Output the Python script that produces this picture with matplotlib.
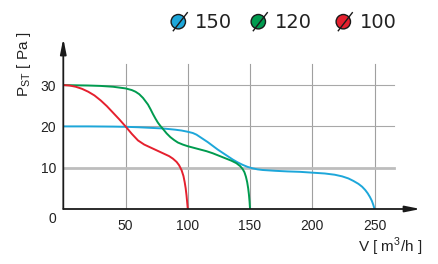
import matplotlib.pyplot as plt
from matplotlib.patches import Circle

plt.rcParams['font.family'] = ['Liberation Sans', 'DejaVu Sans']
plt.rcParams['mathtext.fontset'] = 'custom'
plt.rcParams['mathtext.rm'] = 'Liberation Sans'

# curve data
red_x = [0, 5, 10, 15, 20, 25, 30, 35, 40, 45, 50, 55, 60, 65, 70, 75, 80, 85, 88, 91, 93, 95,
         96.5, 97.5, 98.3, 99, 99.5, 100]
red_y = [30, 29.9, 29.6, 29.1, 28.4, 27.5, 26.3, 24.9, 23.3, 21.7, 20, 18.2, 16.6, 15.6, 14.9,
         14.2, 13.5, 12.8, 12.2, 11.4, 10.6, 9.4, 8.0, 6.5, 5.0, 3.2, 1.6, 0]

green_x = [0, 10, 20, 30, 40, 45, 50, 55, 58, 61, 64, 66, 68, 70, 72, 74, 76, 78, 80, 83, 86, 89,
           92, 96, 100, 105, 110, 115, 120, 125, 130, 135, 139, 142, 144, 145.5, 146.7, 147.7,
           148.5, 149.1, 149.6, 150]
green_y = [30, 29.95, 29.9, 29.8, 29.6, 29.4, 29.2, 28.8, 28.4, 27.8, 26.9, 26.1, 25.3, 24.2, 23.0,
           21.9, 20.9, 20.1, 19.4, 18.3, 17.4, 16.7, 16.1, 15.6, 15.2, 14.8, 14.4, 14.0, 13.5, 12.9,
           12.3, 11.7, 11.1, 10.4, 9.7, 8.9, 7.8, 6.5, 5.0, 3.5, 1.8, 0]

blue_x = [0, 20, 40, 50, 60, 70, 80, 90, 95, 100, 104, 107, 110, 113, 116, 120, 124, 128, 132,
          136, 140, 144, 148, 152, 156, 160, 170, 180, 190, 200, 210, 218, 224, 229, 233, 237,
          240, 242.5, 244.5, 246.3, 247.8, 249, 250]
blue_y = [20, 20, 19.95, 19.9, 19.8, 19.65, 19.5, 19.2, 19.0, 18.7, 18.4, 18.0, 17.4, 16.8, 16.2,
          15.3, 14.4, 13.6, 12.8, 12.0, 11.3, 10.7, 10.2, 9.85, 9.6, 9.45, 9.25, 9.1, 9.0, 8.8,
          8.6, 8.3, 7.9, 7.4, 6.8, 6.1, 5.4, 4.6, 3.8, 2.9, 2.0, 1.0, 0]

x_ticks = [50, 100, 150, 200, 250]
y_ticks = [10, 20, 30]
legend_labels = ['150', '120', '100']

BLUE = '#1da7da'
GREEN = '#009b4f'
RED = '#e5202e'

W, H = 439, 264
fig = plt.figure(figsize=(W / 100, H / 100), dpi=100)

# axes placed so data units map onto the picture's pixels
x0, y0 = 63.3, 209.0
sx, sy = 1.245, 4.13
xmax, ymax = 290, 43
ax = fig.add_axes([x0 / W, (H - y0) / H, xmax * sx / W, ymax * sy / H])
ax.set_xlim(0, xmax)
ax.set_ylim(0, ymax)
for s in ax.spines.values():
    s.set_visible(False)
ax.patch.set_alpha(0)

# grid
for xv in x_ticks:
    ax.plot([xv, xv], [0, 35], color='#a0a0a0', lw=0.8, zorder=1)
for yv in y_ticks:
    if yv == 10:
        ax.plot([0, 266], [yv, yv], color='#bdbdbd', lw=2.0, zorder=1)
    else:
        ax.plot([0, 266], [yv, yv], color='#a8a8a8', lw=0.8, zorder=1)

ax.plot(blue_x, blue_y, color=BLUE, lw=1.4, zorder=3)
ax.plot(green_x, green_y, color=GREEN, lw=1.4, zorder=3)
ax.plot(red_x, red_y, color=RED, lw=1.4, zorder=3)

# axes with arrows
arrow = dict(arrowstyle='-|>,head_length=0.9,head_width=0.18', color='#1a1a1a', lw=1.3,
             shrinkA=0, shrinkB=0)
ax.annotate('', xy=(287, 0), xytext=(0, 0), arrowprops=arrow, annotation_clip=False, zorder=4)
ax.annotate('', xy=(0, 41.3), xytext=(0, 0), arrowprops=arrow, annotation_clip=False, zorder=4)

ax.set_xticks(x_ticks)
ax.set_xticklabels([str(v) for v in x_ticks])
ax.set_yticks(y_ticks)
ax.set_yticklabels([str(v) for v in y_ticks])
ax.tick_params(length=0, labelsize=10, colors='#222222')
ax.tick_params(axis='x', pad=7)
ax.tick_params(axis='y', pad=5)
ax.text(-8.5, -2.5, '0', ha='center', va='center', fontsize=10, color='#222222')

# overlay in pixel coordinates for labels and legend
ov = fig.add_axes([0, 0, 1, 1])
ov.set_xlim(0, W)
ov.set_ylim(H, 0)
ov.axis('off')
ov.patch.set_alpha(0)

ov.text(24, 64, r'P$_{\mathrm{ST}}$ [ Pa ]', rotation=90, ha='center', va='center',
        fontsize=11, color='#222222')
ov.text(390, 247, r'V [ m$^{3}$/h ]', ha='center', va='center', fontsize=11, color='#222222')

leg_x = [178.3, 258.3, 343.3]
leg_col = [BLUE, GREEN, RED]
for cx, col, lab in zip(leg_x, leg_col, legend_labels):
    ov.add_patch(Circle((cx, 21.7), 7.2, facecolor=col, edgecolor='#1a1a1a', lw=1.0, zorder=5))
    ov.plot([cx - 5, cx + 9], [30.7, 12.7], color='#1a1a1a', lw=1.0, zorder=6)
    ov.text(cx + 17, 22.5, lab, ha='left', va='center', fontsize=14, color='#222222',
            family=['DejaVu Sans'])

fig.savefig('out.png', dpi=100)
